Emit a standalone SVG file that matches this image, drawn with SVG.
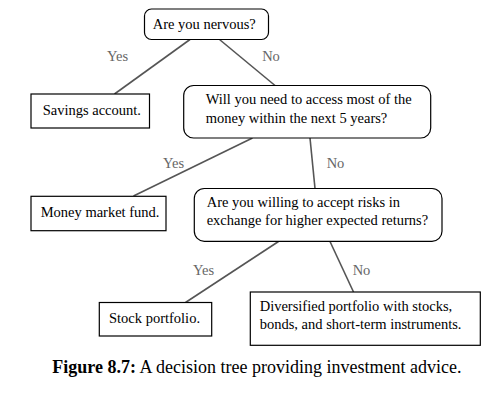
<svg xmlns="http://www.w3.org/2000/svg" width="488" height="407" viewBox="0 0 488 407">
<style>
  .node { fill: #ffffff; stroke: #000000; stroke-width: 1.2; }
  .t { font-family: "Liberation Serif", "Times New Roman", serif; font-size: 14.5px; fill: #000000; }
  .lbl { font-family: "Liberation Serif", "Times New Roman", serif; font-size: 14.5px; fill: #666666; }
  .edge { stroke: #555555; stroke-width: 1.6; fill: none; }
  .cap { font-family: "Liberation Serif", "Times New Roman", serif; font-size: 18px; fill: #000000; }
</style>
<rect width="488" height="407" fill="#ffffff"/>
<g id="connectors">
  <line class="edge" x1="190" y1="39.5" x2="114.5" y2="94"/>
  <line class="edge" x1="219.5" y1="39.5" x2="275" y2="85.5"/>
  <line class="edge" x1="252.5" y1="138" x2="133.5" y2="196"/>
  <line class="edge" x1="310" y1="138" x2="315" y2="188.5"/>
  <line class="edge" x1="278.5" y1="241.5" x2="185.5" y2="302.5"/>
  <line class="edge" x1="330" y1="241.5" x2="353.5" y2="292"/>
  <text class="lbl" x="117.5" y="61" text-anchor="middle">Yes</text>
  <text class="lbl" x="271" y="61" text-anchor="middle">No</text>
  <text class="lbl" x="173.5" y="167.5" text-anchor="middle">Yes</text>
  <text class="lbl" x="335.5" y="167.5" text-anchor="middle">No</text>
  <text class="lbl" x="203.5" y="274.5" text-anchor="middle">Yes</text>
  <text class="lbl" x="361.5" y="274.5" text-anchor="middle">No</text>
</g>
<g id="q1">
  <rect class="node" x="144.5" y="9" width="124" height="30.5" rx="7"/>
  <text class="t" x="152.7" y="28.5">Are you nervous?</text>
</g>
<g id="savings">
  <rect class="node" x="31" y="94" width="118.5" height="34"/>
  <text class="t" x="42.7" y="114.5">Savings account.</text>
</g>
<g id="q2">
  <rect class="node" x="183.7" y="85.5" width="247" height="52.5" rx="10"/>
  <text class="t" x="205.7" y="103.5">Will you need to access most of the</text>
  <text class="t" x="205.7" y="122.5">money within the next 5 years?</text>
</g>
<g id="moneymarket">
  <rect class="node" x="31" y="196.3" width="135" height="34.4"/>
  <text class="t" x="40.7" y="216.8">Money market fund.</text>
</g>
<g id="q3">
  <rect class="node" x="194.3" y="188.5" width="247.7" height="52.8" rx="10"/>
  <text class="t" x="206.7" y="207.4">Are you willing to accept risks in</text>
  <text class="t" x="206.7" y="225.2">exchange for higher expected returns?</text>
</g>
<g id="stock">
  <rect class="node" x="99.3" y="302.5" width="112.4" height="33.5"/>
  <text class="t" x="109" y="322.8">Stock portfolio.</text>
</g>
<g id="diversified">
  <rect class="node" x="250.3" y="292" width="230" height="53.3"/>
  <text class="t" x="259.7" y="311">Diversified portfolio with stocks,</text>
  <text class="t" x="259.7" y="328.8">bonds, and short-term instruments.</text>
</g>
<text class="cap" x="52.3" y="372.7"><tspan font-weight="bold">Figure 8.7:</tspan> A decision tree providing investment advice.</text>
</svg>
